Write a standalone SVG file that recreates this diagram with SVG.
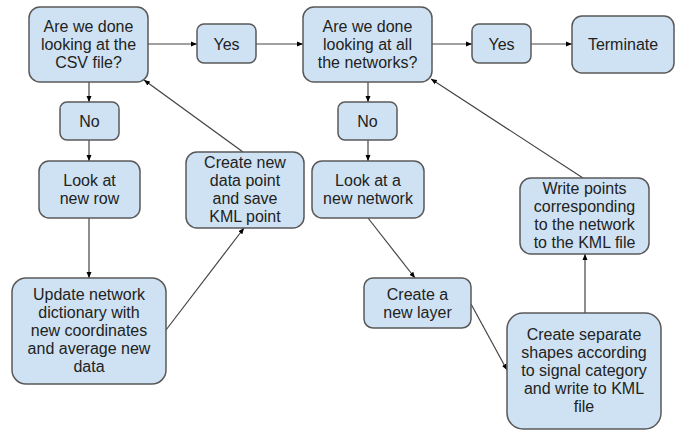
<svg xmlns="http://www.w3.org/2000/svg" width="686" height="432" viewBox="0 0 686 432">
<defs>
<marker id="ah" viewBox="0 0 6 6" refX="6" refY="3" markerWidth="6" markerHeight="6" markerUnits="userSpaceOnUse" orient="auto">
<path d="M0,0.5 L6,3 L0,5.5 z" fill="#000"/>
</marker>
<style>
.box{fill:#cfe2f3;stroke:#595959;stroke-width:1.5}
.t{font-family:"Liberation Sans",Arial,sans-serif;font-size:16px;fill:#222;text-anchor:middle}
.c{fill:none;stroke:#444;stroke-width:1.2;marker-end:url(#ah)}
</style>
</defs>
<rect width="686" height="432" fill="#fff"/>
<g id="connectors">
<line class="c" x1="148" y1="44" x2="197" y2="44"/>
<line class="c" x1="256" y1="44" x2="303" y2="44"/>
<line class="c" x1="432" y1="44" x2="472" y2="44"/>
<line class="c" x1="531" y1="44" x2="572" y2="44"/>
<line class="c" x1="89" y1="82" x2="89" y2="102"/>
<line class="c" x1="89" y1="140" x2="89" y2="161"/>
<line class="c" x1="89" y1="218" x2="89" y2="278"/>
<line class="c" x1="166" y1="330" x2="244" y2="228"/>
<line class="c" x1="243" y1="152" x2="144" y2="80"/>
<line class="c" x1="368" y1="82" x2="368" y2="102"/>
<line class="c" x1="368" y1="140" x2="368" y2="161"/>
<line class="c" x1="368" y1="218" x2="415" y2="278"/>
<line class="c" x1="471" y1="304" x2="507" y2="370"/>
<line class="c" x1="585" y1="313" x2="585" y2="254"/>
<line class="c" x1="583" y1="178" x2="431" y2="79"/>
</g>
<g id="n1"><rect class="box" x="29" y="7" width="119" height="75" rx="11"/>
<text class="t" x="88.5" y="32">Are we done</text><text class="t" x="88.5" y="50">looking at the</text><text class="t" x="88.5" y="68">CSV file?</text></g>
<g id="yes1"><rect class="box" x="197" y="24" width="59" height="39" rx="7"/><text class="t" x="226.5" y="50">Yes</text></g>
<g id="n2"><rect class="box" x="303" y="7" width="129" height="75" rx="11"/>
<text class="t" x="367.5" y="32">Are we done</text><text class="t" x="367.5" y="50">looking at all</text><text class="t" x="367.5" y="68">the networks?</text></g>
<g id="yes2"><rect class="box" x="472" y="24" width="59" height="39" rx="7"/><text class="t" x="501.5" y="50">Yes</text></g>
<g id="term"><rect class="box" x="572" y="16" width="102" height="57" rx="10"/><text class="t" x="623" y="50">Terminate</text></g>
<g id="no1"><rect class="box" x="60" y="102" width="59" height="38" rx="7"/><text class="t" x="89.5" y="127">No</text></g>
<g id="no2"><rect class="box" x="338" y="102" width="59" height="38" rx="7"/><text class="t" x="367.5" y="127">No</text></g>
<g id="row"><rect class="box" x="39" y="161" width="101" height="57" rx="10"/>
<text class="t" x="89.5" y="186">Look at</text><text class="t" x="89.5" y="204">new row</text></g>
<g id="newpoint"><rect class="box" x="186" y="152" width="118" height="76" rx="11"/>
<text class="t" x="245" y="168">Create new</text><text class="t" x="245" y="186">data point</text><text class="t" x="245" y="204">and save</text><text class="t" x="245" y="222">KML point</text></g>
<g id="network"><rect class="box" x="312" y="161" width="112" height="57" rx="10"/>
<text class="t" x="368" y="186">Look at a</text><text class="t" x="368" y="204">new network</text></g>
<g id="write"><rect class="box" x="520" y="178" width="129" height="76" rx="11"/>
<text class="t" x="584.5" y="194">Write points</text><text class="t" x="584.5" y="212">corresponding</text><text class="t" x="584.5" y="230">to the network</text><text class="t" x="584.5" y="248">to the KML file</text></g>
<g id="update"><rect class="box" x="12" y="278" width="154" height="106" rx="14"/>
<text class="t" x="89" y="300">Update network</text><text class="t" x="89" y="318">dictionary with</text><text class="t" x="89" y="336">new coordinates</text><text class="t" x="89" y="354">and average new</text><text class="t" x="89" y="372">data</text></g>
<g id="layer"><rect class="box" x="364" y="278" width="107" height="50" rx="9"/>
<text class="t" x="417.5" y="300">Create a</text><text class="t" x="417.5" y="318">new layer</text></g>
<g id="shapes"><rect class="box" x="507" y="313" width="154" height="116" rx="16"/>
<text class="t" x="584" y="340">Create separate</text><text class="t" x="584" y="358">shapes according</text><text class="t" x="584" y="376">to signal category</text><text class="t" x="584" y="394">and write to KML</text><text class="t" x="584" y="412">file</text></g>
</svg>
